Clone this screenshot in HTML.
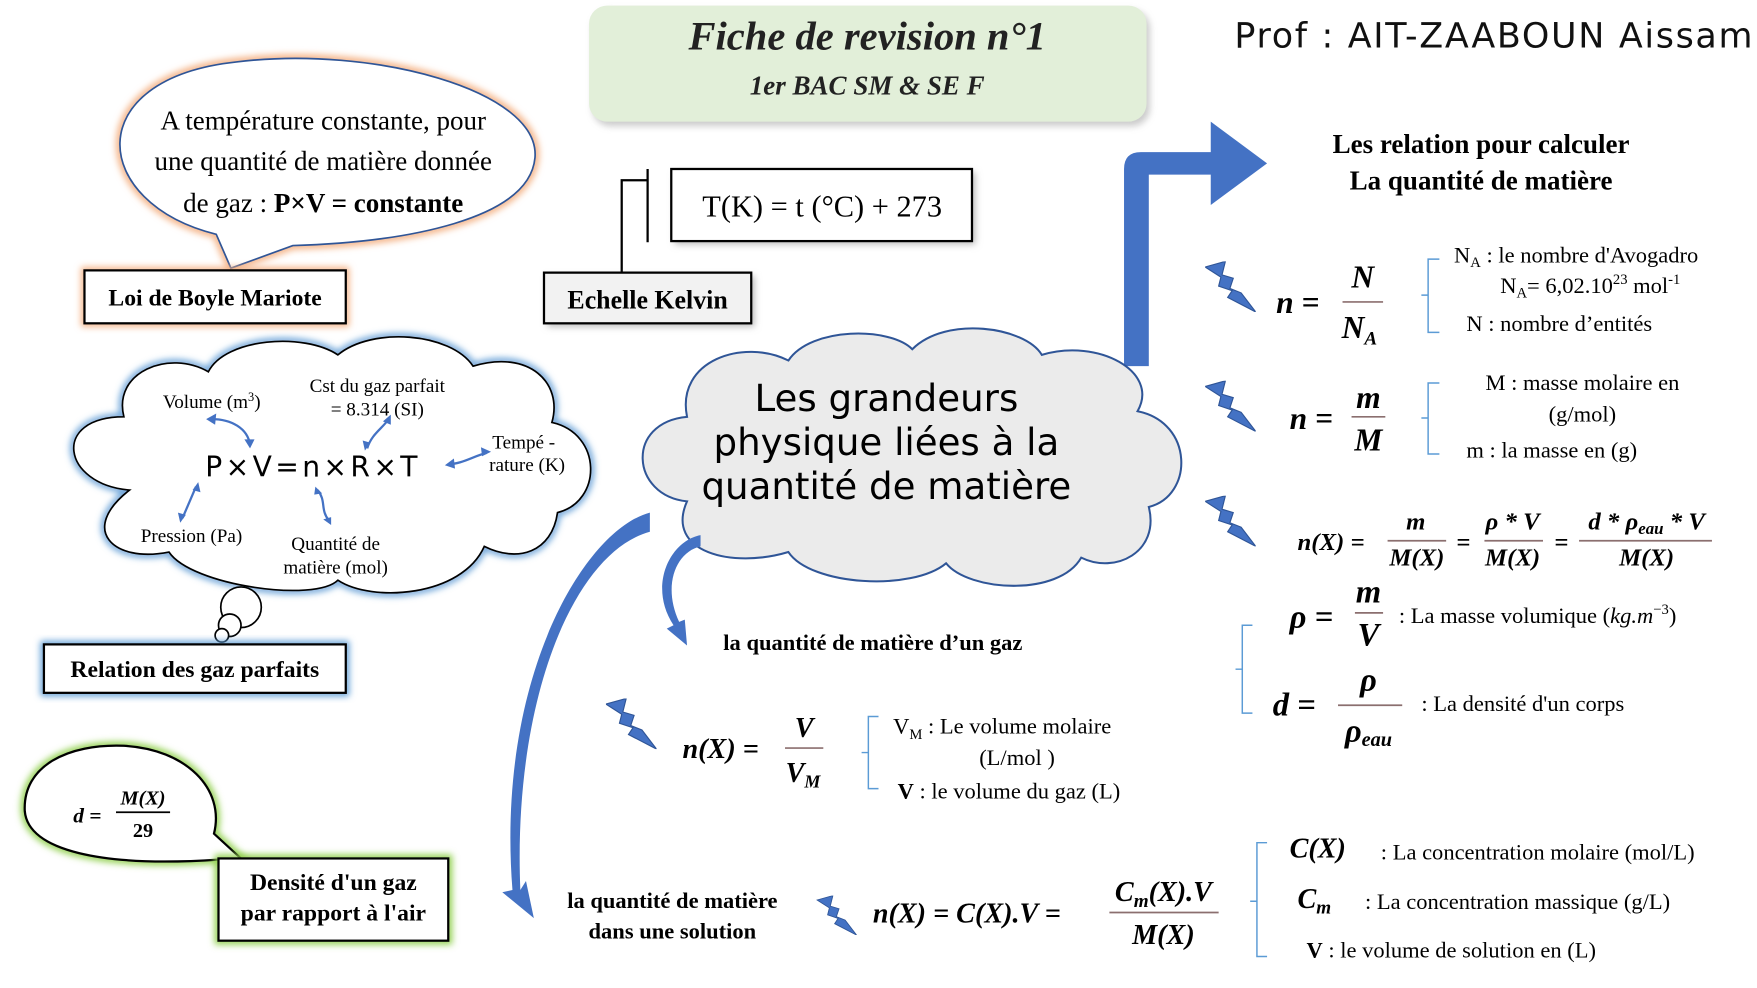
<!DOCTYPE html>
<html><head><meta charset="utf-8"><style>
html,body{margin:0;padding:0;background:#fff;width:1757px;height:988px;overflow:hidden}
svg{display:block}
.s{font-family:"Liberation Serif",serif}
.m{font-family:"Liberation Serif",serif;font-style:italic;font-weight:bold}
.h{font-family:"DejaVu Sans",sans-serif}
</style></head><body>
<svg width="1757" height="988" viewBox="0 0 1560 877" preserveAspectRatio="none" xmlns="http://www.w3.org/2000/svg">
<defs>
<filter id="go" x="-20%" y="-20%" width="140%" height="140%"><feGaussianBlur stdDeviation="3"/></filter>
<symbol id="bolt" viewBox="0 0 45 45"><path d="M0 5 L18 0 L15 12 L25 15 L22 24 L32 28 L45 45 L20 32 L24 26 L12 22 L14 14 Z" fill="#4472c4" stroke="#2f5597" stroke-width="1"/></symbol>
</defs>

<!-- title -->
<rect x="526" y="9" width="495" height="103" rx="16" fill="#999" opacity="0.5" filter="url(#go)"/>
<rect x="523" y="5" width="495" height="103" rx="16" fill="#e2efd9"/>
<text x="770" y="44" text-anchor="middle" class="s" font-style="italic" font-weight="bold" font-size="36" fill="#222">Fiche de revision n°1</text>
<text x="770" y="84" text-anchor="middle" class="s" font-style="italic" font-weight="bold" font-size="24" fill="#222">1er BAC SM &amp; SE F</text>
<text x="1096" y="42" class="h" font-size="31" fill="#111" textLength="460">Prof : AIT-ZAABOUN Aissam</text>

<!-- Boyle speech bubble -->
<path d="M205 238 L192 208 C80 180 70 70 210 55 C330 40 480 80 475 140 C470 195 360 215 260 218 Z" fill="none" stroke="#f4b183" stroke-width="7" filter="url(#go)"/>
<path d="M205 238 L192 208 C80 180 70 70 210 55 C330 40 480 80 475 140 C470 195 360 215 260 218 Z" fill="#fff" stroke="#2f5597" stroke-width="1.5"/>
<text x="287" y="115" text-anchor="middle" class="s" font-size="24">A température constante, pour</text>
<text x="287" y="151" text-anchor="middle" class="s" font-size="24">une quantité de matière donnée</text>
<text x="287" y="188" text-anchor="middle" class="s" font-size="24">de gaz : <tspan font-weight="bold">P×V = constante</tspan></text>
<rect x="75" y="240" width="232" height="47" fill="none" stroke="#f4b183" stroke-width="6" filter="url(#go)"/>
<rect x="75" y="240" width="232" height="47" fill="#fff" stroke="#000" stroke-width="2"/>
<text x="191" y="271" text-anchor="middle" class="s" font-weight="bold" font-size="21">Loi de Boyle Mariote</text>

<!-- Kelvin -->
<path d="M552 243 V160 H575" fill="none" stroke="#000" stroke-width="2"/>
<line x1="575" y1="150" x2="575" y2="215" stroke="#000" stroke-width="2"/>
<rect x="599" y="153" width="267" height="64" fill="#bbb" filter="url(#go)"/>
<rect x="596" y="150" width="267" height="64" fill="#fff" stroke="#000" stroke-width="2"/>
<text x="730" y="192" text-anchor="middle" class="s" font-size="27">T(K) = t (°C) + 273</text>
<rect x="486" y="245" width="184" height="45" fill="#bbb" filter="url(#go)"/>
<rect x="483" y="242" width="184" height="45" fill="#f2f2f2" stroke="#000" stroke-width="2"/>
<text x="575" y="274" text-anchor="middle" class="s" font-weight="bold" font-size="23">Echelle Kelvin</text>

<!-- ideal gas cloud -->
<path d="M115 435 C55 430 45 370 110 370 C100 330 150 310 185 330 C200 300 270 295 300 315 C330 290 400 295 420 325 C470 310 500 340 490 375 C535 385 535 445 495 455 C490 490 460 500 430 485 C410 530 330 535 300 515 C280 535 170 520 150 490 C100 500 70 470 115 435 Z" fill="#fff" stroke="#5b9bd5" stroke-width="6" filter="url(#go)"/>
<path d="M115 435 C55 430 45 370 110 370 C100 330 150 310 185 330 C200 300 270 295 300 315 C330 290 400 295 420 325 C470 310 500 340 490 375 C535 385 535 445 495 455 C490 490 460 500 430 485 C410 530 330 535 300 515 C280 535 170 520 150 490 C100 500 70 470 115 435 Z" fill="#fff" stroke="#000" stroke-width="1.5"/>
<circle cx="214" cy="539" r="18" fill="#fff" stroke="#000" stroke-width="1.5"/>
<circle cx="204" cy="555" r="10" fill="#fff" stroke="#000" stroke-width="1.5"/>
<circle cx="197" cy="564" r="6" fill="#fff" stroke="#000" stroke-width="1.5"/>
<text x="188" y="362" text-anchor="middle" class="s" font-size="17">Volume (m<tspan font-size="11" dy="-6">3</tspan><tspan dy="6">)</tspan></text>
<text x="335" y="348" text-anchor="middle" class="s" font-size="17">Cst du gaz parfait</text>
<text x="335" y="369" text-anchor="middle" class="s" font-size="17">= 8.314 (SI)</text>
<text x="465" y="398" text-anchor="middle" class="s" font-size="17">Tempé -</text>
<text x="468" y="418" text-anchor="middle" class="s" font-size="17">rature (K)</text>
<text x="278" y="423" text-anchor="middle" class="h" font-size="25" letter-spacing="3">P×V=n×R×T</text>
<text x="170" y="481" text-anchor="middle" class="s" font-size="17">Pression (Pa)</text>
<text x="298" y="488" text-anchor="middle" class="s" font-size="17">Quantité de</text>
<text x="298" y="509" text-anchor="middle" class="s" font-size="17">matière (mol)</text>
<g stroke="#4472c4" stroke-width="2" fill="none">
<path d="M188 372 C205 372 220 380 222 395"/><path d="M345 372 C340 380 330 385 326 398"/>
<path d="M398 412 C410 412 420 405 432 402"/><path d="M174 432 L162 460"/><path d="M282 435 C290 445 284 452 292 462"/>
</g>
<g fill="#4472c4">
<path d="M183 372 l9 -5 l-1 10z"/><path d="M222 398 l-5 -8 l9 0z"/><path d="M347 368 l0 9 l-7 -3z"/><path d="M324 400 l-2 -9 l7 2z"/>
<path d="M395 413 l8 -6 l1 9z"/><path d="M436 401 l-9 -4 l1 8z"/><path d="M176 428 l2 9 l-7 -2z"/><path d="M160 464 l-2 -9 l7 2z"/>
<path d="M280 432 l6 6 l-7 1z"/><path d="M294 466 l-7 -5 l7 -2z"/>
</g>
<rect x="39" y="572" width="268" height="43" fill="none" stroke="#5b9bd5" stroke-width="6" filter="url(#go)"/>
<rect x="39" y="572" width="268" height="43" fill="#fff" stroke="#000" stroke-width="2"/>
<text x="173" y="601" text-anchor="middle" class="s" font-weight="bold" font-size="21">Relation des gaz parfaits</text>

<!-- density bubble -->
<path d="M215 763 L194 763 C90 770 25 755 22 720 C20 680 60 660 110 662 C165 665 200 700 190 740 Z" fill="none" stroke="#92d050" stroke-width="7" filter="url(#go)"/>
<path d="M215 763 L194 763 C90 770 25 755 22 720 C20 680 60 660 110 662 C165 665 200 700 190 740 Z" fill="#fff" stroke="#000" stroke-width="2"/>
<text x="65" y="730" class="m" font-size="19">d =</text>
<text x="127" y="714" text-anchor="middle" class="m" font-size="18">M(X)</text>
<line x1="103" y1="721" x2="151" y2="721" stroke="#000" stroke-width="1.5"/>
<text x="127" y="743" text-anchor="middle" class="s" font-weight="bold" font-size="18">29</text>
<rect x="194" y="762" width="204" height="73" fill="none" stroke="#92d050" stroke-width="7" filter="url(#go)"/>
<rect x="194" y="762" width="204" height="73" fill="#fff" stroke="#000" stroke-width="2"/>
<text x="296" y="790" text-anchor="middle" class="s" font-weight="bold" font-size="21">Densité d'un gaz</text>
<text x="296" y="817" text-anchor="middle" class="s" font-weight="bold" font-size="21">par rapport à l'air</text>

<!-- big arrow -->
<path d="M998 325 V150 Q998 135 1013 135 H1075 V108 L1125 145 L1075 182 V155 H1020 V325 Z" fill="#4472c4"/>
<text x="1315" y="136" text-anchor="middle" class="s" font-weight="bold" font-size="24">Les relation pour calculer</text>
<text x="1315" y="168" text-anchor="middle" class="s" font-weight="bold" font-size="24">La quantité de matière</text>

<!-- central cloud -->
<path d="M610 445 C560 440 555 375 610 370 C600 320 660 300 700 320 C720 290 790 290 810 310 C840 280 910 290 925 315 C975 300 1030 330 1010 365 C1060 375 1060 440 1020 450 C1030 490 990 510 960 495 C940 530 860 525 840 500 C810 525 720 520 700 490 C650 505 590 490 610 445 Z" fill="#ebebeb" stroke="#2f5597" stroke-width="1.8"/>
<text x="787" y="365" text-anchor="middle" class="h" font-size="33">Les grandeurs</text>
<text x="787" y="404" text-anchor="middle" class="h" font-size="33">physique liées à la</text>
<text x="787" y="443" text-anchor="middle" class="h" font-size="33">quantité de matière</text>

<!-- curved arrows -->
<path d="M577 455 C520 470 440 600 455 790 L446 792 L474 815 L467 782 L462 790 C455 620 510 490 577 472 Z" fill="#4472c4"/>
<path d="M622 475 C595 480 575 520 598 555 L592 558 L610 573 L608 550 L603 552 C588 520 600 490 622 485 Z" fill="#4472c4"/>
<text x="775" y="577" text-anchor="middle" class="s" font-weight="bold" font-size="20">la quantité de matière d’un gaz</text>
<text x="597" y="806" text-anchor="middle" class="s" font-weight="bold" font-size="20">la quantité de matière</text>
<text x="597" y="833" text-anchor="middle" class="s" font-weight="bold" font-size="20">dans une solution</text>

<!-- bolts -->
<use href="#bolt" x="1070" y="232" width="45" height="45"/>
<use href="#bolt" x="1070" y="338" width="45" height="45"/>
<use href="#bolt" x="1070" y="440" width="45" height="45"/>
<use href="#bolt" x="538" y="620" width="45" height="45"/>
<use href="#bolt" x="722" y="795" width="42" height="35"/>

<!-- formulas right -->
<g class="m" font-size="28">
<text x="1133" y="278">n =</text>
<text x="1210" y="255" text-anchor="middle">N</text>
<line x1="1192" y1="268" x2="1228" y2="268" stroke="#8b6f6f" stroke-width="1.5"/>
<text x="1207" y="300" text-anchor="middle">N<tspan font-size="17" dy="6">A</tspan></text>
<text x="1145" y="381">n =</text>
<text x="1215" y="362" text-anchor="middle">m</text>
<line x1="1200" y1="370" x2="1230" y2="370" stroke="#8b6f6f" stroke-width="1.5"/>
<text x="1215" y="400" text-anchor="middle">M</text>
</g>
<g fill="none" stroke="#5b9bd5" stroke-width="1.3">
<path d="M1278 230 H1268 V295 H1278 M1268 262 H1262"/>
<path d="M1278 340 H1268 V403 H1278 M1268 371 H1262"/>
<path d="M1112 555 H1103 V633 H1112 M1103 594 H1097"/>
<path d="M780 636 H771 V700 H780 M771 668 H765"/>
<path d="M1125 748 H1116 V849 H1125 M1116 800 H1110"/>
</g>
<g class="s" font-size="20">
<text x="1291" y="233">N<tspan font-size="13" dy="4">A</tspan><tspan dy="-4"> : le nombre d'Avogadro</tspan></text>
<text x="1332" y="260">N<tspan font-size="13" dy="4">A</tspan><tspan dy="-4">= 6,02.10</tspan><tspan font-size="13" dy="-8">23</tspan><tspan dy="8"> mol</tspan><tspan font-size="13" dy="-8">-1</tspan></text>
<text x="1302" y="294">N : nombre d’entités</text>
<text x="1405" y="346" text-anchor="middle">M : masse molaire en</text>
<text x="1405" y="374" text-anchor="middle">(g/mol)</text>
<text x="1302" y="406">m : la masse en (g)</text>
</g>
<g class="m" font-size="22">
<text x="1152" y="488">n(X) =</text>
<text x="1257" y="470" text-anchor="middle">m</text>
<line x1="1232" y1="480" x2="1284" y2="480" stroke="#8b6f6f" stroke-width="1.5"/>
<text x="1258" y="502" text-anchor="middle">M(X)</text>
<text x="1293" y="488">=</text>
<text x="1343" y="470" text-anchor="middle">ρ * V</text>
<line x1="1318" y1="480" x2="1370" y2="480" stroke="#8b6f6f" stroke-width="1.5"/>
<text x="1343" y="502" text-anchor="middle">M(X)</text>
<text x="1380" y="488">=</text>
<text x="1462" y="470" text-anchor="middle">d * ρ<tspan font-size="15" dy="4">eau</tspan><tspan dy="-4"> * V</tspan></text>
<line x1="1402" y1="480" x2="1520" y2="480" stroke="#8b6f6f" stroke-width="1.5"/>
<text x="1462" y="502" text-anchor="middle">M(X)</text>
</g>
<g class="m" font-size="29">
<text x="1145" y="557">ρ =</text>
<text x="1215" y="535" text-anchor="middle">m</text>
<line x1="1203" y1="544" x2="1228" y2="544" stroke="#8b6f6f" stroke-width="1.5"/>
<text x="1215" y="573" text-anchor="middle">V</text>
<text x="1130" y="635">d =</text>
<text x="1215" y="613" text-anchor="middle">ρ</text>
<line x1="1188" y1="626" x2="1245" y2="626" stroke="#8b6f6f" stroke-width="1.5"/>
<text x="1215" y="658" text-anchor="middle">ρ<tspan font-size="18" dy="4">eau</tspan></text>
</g>
<g class="s" font-size="20">
<text x="1242" y="553">: La masse volumique (<tspan font-style="italic">kg.m</tspan><tspan font-size="13" dy="-8">−3</tspan><tspan dy="8">)</tspan></text>
<text x="1262" y="631">: La densité d'un corps</text>
</g>
<g class="m" font-size="25">
<text x="606" y="673">n(X) =</text>
<text x="714" y="654" text-anchor="middle">V</text>
<line x1="697" y1="664" x2="731" y2="664" stroke="#8b6f6f" stroke-width="1.5"/>
<text x="713" y="694" text-anchor="middle">V<tspan font-size="16" dy="5">M</tspan></text>
</g>
<g class="s" font-size="20">
<text x="793" y="651">V<tspan font-size="13" dy="5">M</tspan><tspan dy="-5"> : Le volume molaire</tspan></text>
<text x="903" y="679" text-anchor="middle">(L/mol )</text>
<text x="797" y="709"><tspan font-weight="bold">V</tspan>   : le volume du gaz (L)</text>
</g>
<g class="m" font-size="25">
<text x="775" y="819">n(X) = C(X).V =</text>
<text x="1033" y="800" text-anchor="middle">C<tspan font-size="17" dy="5">m</tspan><tspan dy="-5">(X).V</tspan></text>
<line x1="985" y1="810" x2="1082" y2="810" stroke="#8b6f6f" stroke-width="1.5"/>
<text x="1033" y="838" text-anchor="middle">M(X)</text>
<text x="1145" y="761">C(X)</text>
<text x="1152" y="806">C<tspan font-size="17" dy="5">m</tspan></text>
</g>
<g class="s" font-size="20">
<text x="1226" y="763">: La concentration molaire (mol/L)</text>
<text x="1212" y="807">: La concentration massique (g/L)</text>
<text x="1160" y="850"><tspan font-weight="bold">V</tspan>   : le volume de solution en (L)</text>
</g>
</svg>
</body></html>
